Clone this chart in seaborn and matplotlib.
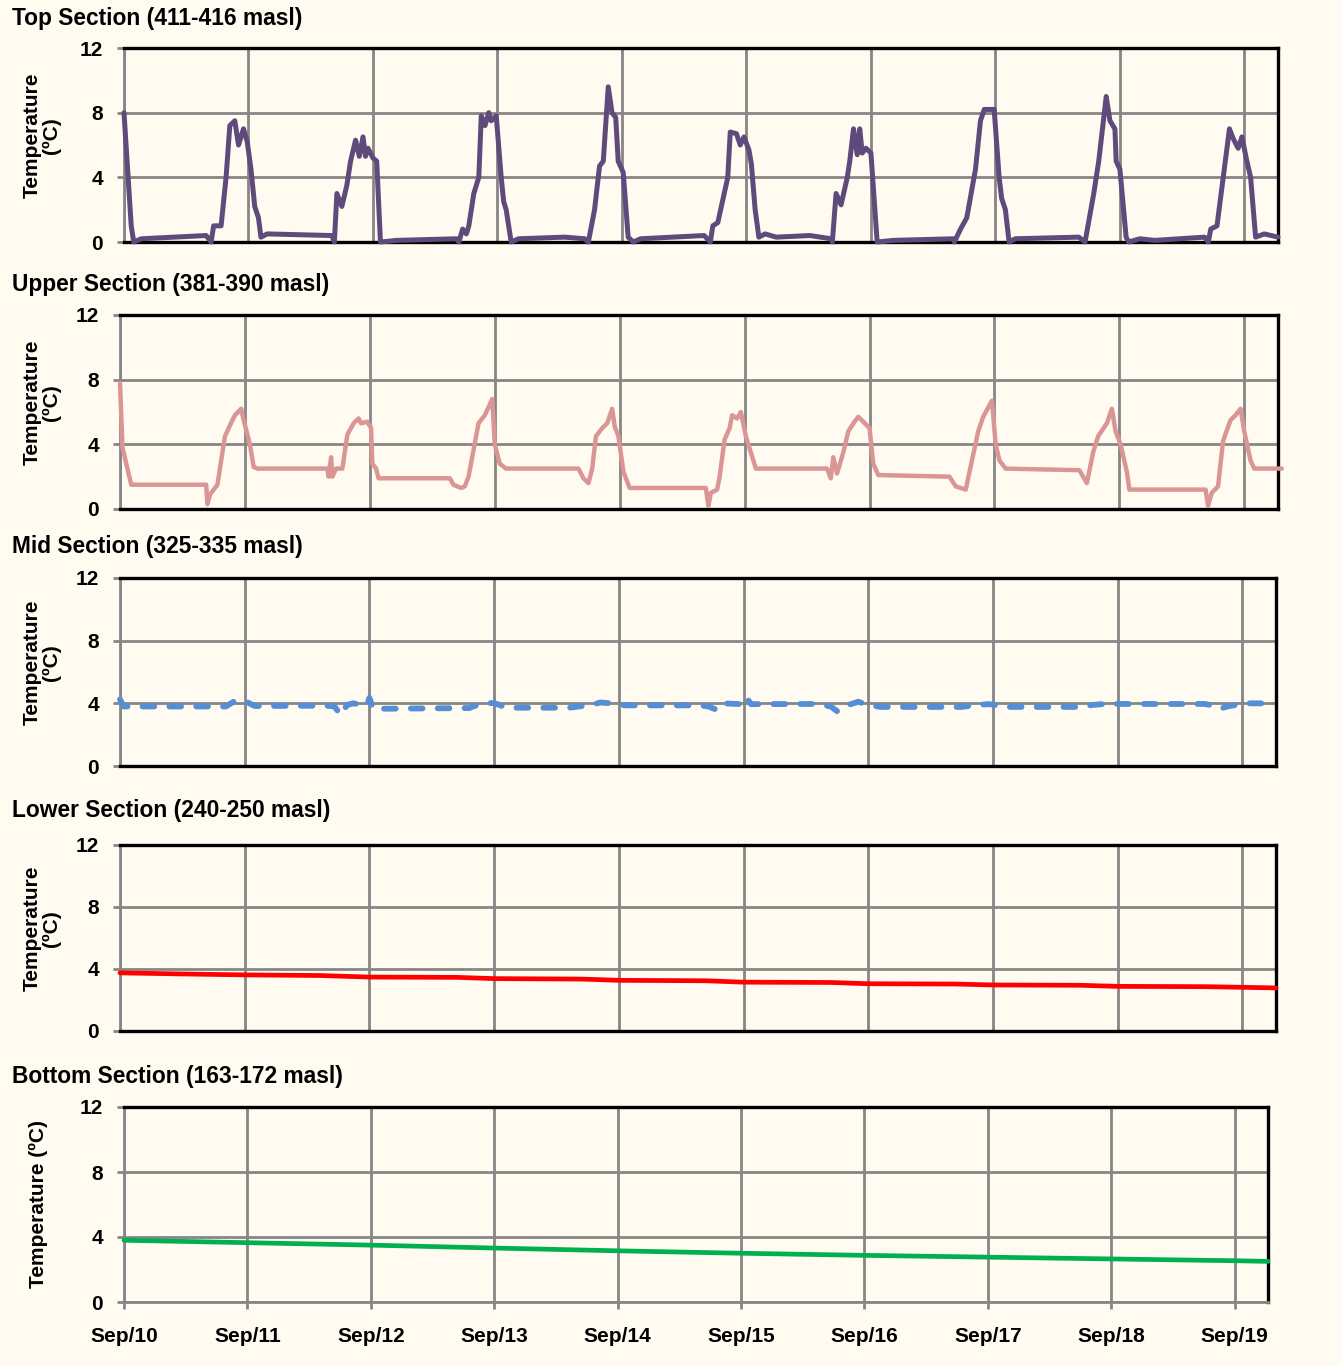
import numpy as np
import pandas as pd
import matplotlib
matplotlib.use("Agg")
import matplotlib.pyplot as plt
import seaborn as sns

# ---------------- data ----------------
x_labels = ["Sep/10", "Sep/11", "Sep/12", "Sep/13", "Sep/14",
            "Sep/15", "Sep/16", "Sep/17", "Sep/18", "Sep/19"]

titles = ["Top Section (411-416 masl)", "Upper Section (381-390 masl)",
          "Mid Section (325-335 masl)", "Lower Section (240-250 masl)",
          "Bottom Section (163-172 masl)"]

top_day = [0.00, 0.058, 0.078, 0.14, 0.66, 0.70, 0.72, 0.78, 0.82, 0.85, 0.89, 0.92,
           0.96, 0.99, 1.02, 1.05, 1.08, 1.10, 1.15, 1.67, 1.69, 1.71, 1.75, 1.79,
           1.82, 1.86, 1.89, 1.92, 1.94, 1.96, 2.00, 2.03, 2.06, 2.19, 2.67, 2.69,
           2.72, 2.75, 2.77, 2.81, 2.85, 2.87, 2.90, 2.93, 2.95, 2.99, 3.03, 3.05,
           3.07, 3.11, 3.17, 3.54, 3.70, 3.73, 3.78, 3.82, 3.85, 3.89, 3.92, 3.95,
           3.97, 4.01, 4.05, 4.09, 4.15, 4.66, 4.71, 4.73, 4.77, 4.85, 4.87, 4.92,
           4.95, 4.98, 5.02, 5.04, 5.07, 5.10, 5.15, 5.24, 5.51, 5.68, 5.69, 5.72,
           5.76, 5.81, 5.83, 5.86, 5.89, 5.91, 5.93, 5.96, 6.00, 6.05, 6.18, 6.66,
           6.67, 6.72, 6.77, 6.84, 6.88, 6.91, 6.99, 7.03, 7.05, 7.08, 7.11, 7.16,
           7.67, 7.72, 7.79, 7.83, 7.89, 7.92, 7.96, 7.97, 8.00, 8.05, 8.07, 8.16,
           8.28, 8.68, 8.71, 8.73, 8.78, 8.83, 8.88, 8.91, 8.95, 8.98, 9.02, 9.05,
           9.09, 9.16, 9.27]
top_temp = [8.0, 1.0, 0.0, 0.2, 0.4, 0.0, 1.0, 1.0, 4.0, 7.2, 7.5, 6.0,
            7.0, 6.2, 4.5, 2.2, 1.5, 0.3, 0.5, 0.4, 0.0, 3.0, 2.2, 3.5,
            5.0, 6.3, 5.3, 6.5, 5.3, 5.8, 5.2, 5.0, 0.0, 0.1, 0.2, 0.0,
            0.8, 0.5, 1.0, 3.0, 4.0, 7.8, 7.2, 8.0, 7.5, 7.8, 4.0, 2.5,
            2.0, 0.0, 0.2, 0.3, 0.2, 0.0, 2.0, 4.7, 5.0, 9.6, 8.0, 7.7,
            5.0, 4.3, 0.3, 0.0, 0.2, 0.4, 0.0, 1.0, 1.2, 4.0, 6.8, 6.7,
            6.0, 6.5, 5.7, 4.8, 2.0, 0.3, 0.5, 0.3, 0.4, 0.2, 0.0, 3.0,
            2.3, 4.0, 5.0, 7.0, 5.4, 7.0, 5.5, 5.8, 5.5, 0.0, 0.1, 0.2,
            0.0, 0.8, 1.5, 4.5, 7.5, 8.2, 8.2, 4.0, 2.7, 2.0, 0.0, 0.2,
            0.3, 0.0, 3.0, 5.0, 9.0, 7.5, 7.0, 5.0, 4.5, 0.3, 0.0, 0.2,
            0.1, 0.3, 0.0, 0.8, 1.0, 4.0, 7.0, 6.4, 5.8, 6.5, 5.0, 4.0,
            0.3, 0.5, 0.3]

upper_day = [0.00, 0.02, 0.09, 0.69, 0.70, 0.72, 0.75, 0.78, 0.84, 0.87, 0.90, 0.92,
             0.97, 0.99, 1.04, 1.07, 1.10, 1.66, 1.67, 1.69, 1.70, 1.73, 1.78, 1.82,
             1.87, 1.91, 1.93, 1.98, 2.01, 2.02, 2.05, 2.07, 2.64, 2.67, 2.73, 2.76,
             2.79, 2.87, 2.92, 2.95, 2.98, 3.00, 3.04, 3.09, 3.67, 3.71, 3.75, 3.78,
             3.81, 3.86, 3.90, 3.94, 3.96, 3.99, 4.03, 4.08, 4.69, 4.71, 4.73, 4.78,
             4.80, 4.84, 4.88, 4.90, 4.94, 4.97, 5.01, 5.05, 5.09, 5.66, 5.69, 5.71,
             5.74, 5.79, 5.83, 5.88, 5.91, 5.95, 6.00, 6.03, 6.07, 6.64, 6.69, 6.77,
             6.82, 6.87, 6.91, 6.98, 7.01, 7.04, 7.09, 7.68, 7.71, 7.74, 7.79, 7.83,
             7.90, 7.94, 7.97, 8.01, 8.06, 8.08, 8.69, 8.71, 8.74, 8.79, 8.83, 8.89,
             8.93, 8.97, 9.00, 9.05, 9.08, 9.30]
upper_temp = [7.8, 3.8, 1.5, 1.5, 0.3, 0.9, 1.2, 1.5, 4.5, 5.0, 5.5, 5.8,
              6.2, 5.5, 4.0, 2.6, 2.5, 2.5, 2.0, 3.2, 2.0, 2.5, 2.5, 4.6,
              5.3, 5.6, 5.3, 5.4, 5.0, 2.8, 2.5, 1.9, 1.9, 1.5, 1.3, 1.4,
              2.0, 5.3, 5.8, 6.3, 6.8, 4.0, 2.8, 2.5, 2.5, 1.9, 1.6, 2.5,
              4.5, 5.0, 5.3, 6.2, 5.1, 4.5, 2.3, 1.3, 1.3, 0.2, 1.0, 1.2,
              2.0, 4.3, 5.0, 5.8, 5.6, 6.0, 4.5, 3.5, 2.5, 2.5, 1.9, 3.2,
              2.2, 3.5, 4.8, 5.4, 5.7, 5.4, 5.0, 2.8, 2.1, 2.0, 1.4, 1.2,
              3.0, 4.8, 5.7, 6.7, 4.0, 3.0, 2.5, 2.4, 2.0, 1.6, 3.5, 4.5,
              5.3, 6.2, 4.8, 4.0, 2.3, 1.2, 1.2, 0.2, 1.0, 1.4, 4.2, 5.5,
              5.8, 6.2, 4.8, 3.0, 2.5, 2.5]

mid_day = [0.00, 0.03, 0.50, 0.85, 0.92, 1.00, 1.08, 1.65, 1.72, 1.77, 1.82, 1.87,
           1.98, 2.00, 2.03, 2.50, 2.80, 2.90, 3.00, 3.10, 3.60, 3.78, 3.85, 3.95,
           4.05, 4.65, 4.72, 4.78, 4.83, 4.98, 5.02, 5.06, 5.60, 5.70, 5.75, 5.80,
           5.92, 6.00, 6.10, 6.75, 6.87, 6.97, 7.10, 7.70, 7.80, 7.90, 8.70, 8.77,
           8.82, 8.88, 9.02, 9.25]
mid_temp = [4.25, 3.80, 3.80, 3.80, 4.15, 4.15, 3.83, 3.85, 3.80, 3.25, 3.90, 4.00,
            3.85, 4.35, 3.65, 3.68, 3.70, 4.00, 4.02, 3.72, 3.72, 3.90, 4.05, 4.00,
            3.87, 3.87, 3.80, 3.60, 4.00, 3.95, 4.40, 3.95, 3.96, 3.80, 3.50, 3.80,
            4.10, 3.90, 3.77, 3.77, 3.90, 3.95, 3.77, 3.77, 3.90, 3.96, 3.96, 3.85,
            3.65, 3.80, 4.00, 4.00]

lower_day = [0.0, 0.5, 1.0, 1.6, 2.0, 2.7, 3.0, 3.7, 4.0, 4.7, 5.0, 5.7, 6.0,
             6.7, 7.0, 7.7, 8.0, 8.7, 9.0, 9.27]
lower_temp = [3.75, 3.68, 3.62, 3.58, 3.48, 3.46, 3.38, 3.35, 3.27, 3.24, 3.15,
              3.13, 3.05, 3.03, 2.97, 2.95, 2.88, 2.86, 2.82, 2.78]

bottom_day = [0, 1, 2, 3, 4, 5, 6, 7, 8, 9, 9.27]
bottom_temp = [3.8, 3.65, 3.5, 3.32, 3.15, 3.0, 2.87, 2.76, 2.65, 2.54, 2.5]

# ---------------- style ----------------
sns.set_theme(style="white")
plt.rcParams['font.family'] = ['Liberation Sans', 'DejaVu Sans']
plt.rcParams['font.weight'] = 'bold'
plt.rcParams['axes.labelweight'] = 'bold'

W, H = 1341, 1366
BG = '#FFFBF1'
GRID = '#868686'

fig = plt.figure(figsize=(W / 100, H / 100), dpi=100)
fig.patch.set_facecolor(BG)

panels = [
    dict(day=top_day, temp=top_temp, color='#5F4B7B', lw=3.6, dash=False,
         box=(124, 1278, 48, 242), ty=19, ylab='Temperature\n(\u00baC)', lx=42),
    dict(day=upper_day, temp=upper_temp, color='#D99694', lw=3.2, dash=False,
         box=(120, 1278, 315, 509), ty=284, ylab='Temperature\n(\u00baC)', lx=42),
    dict(day=mid_day, temp=mid_temp, color='#558ED5', lw=4.2, dash=True,
         box=(120, 1276, 578, 766), ty=547, ylab='Temperature\n(\u00baC)', lx=42),
    dict(day=lower_day, temp=lower_temp, color='#FF0000', lw=3.4, dash=False,
         box=(120, 1276, 845, 1031), ty=811, ylab='Temperature\n(\u00baC)', lx=42),
    dict(day=bottom_day, temp=bottom_temp, color='#00B050', lw=3.4, dash=False,
         box=(124, 1268, 1107, 1302), ty=1076, ylab='Temperature (\u00baC)', lx=38),
]

for i, p in enumerate(panels):
    l, r, t, b = p['box']
    ax = fig.add_axes([l / W, 1 - b / H, (r - l) / W, (b - t) / H])
    ax.set_facecolor(BG)
    df = pd.DataFrame({'day': p['day'], 'temp': p['temp']})
    sns.lineplot(data=df, x='day', y='temp', ax=ax, color=p['color'],
                 linewidth=p['lw'], sort=False, estimator=None, zorder=5)
    line = ax.lines[-1]
    line.set_clip_on(False)
    line.set_solid_joinstyle('round')
    line.set_solid_capstyle('round')
    if p['dash']:
        line.set_dashes((2.0, 2.6))
        line.set_dash_capstyle('round')

    ax.set_xlim(0, 9.27)
    ax.set_ylim(0, 12)
    ax.set_xticks(range(len(x_labels)))
    ax.set_yticks([0, 4, 8, 12])
    ax.grid(True, color=GRID, linewidth=2.0)
    ax.set_axisbelow(True)

    for s in ['top', 'right']:
        ax.spines[s].set_color('black')
        ax.spines[s].set_linewidth(2.4)
        ax.spines[s].set_visible(True)
    ax.spines['left'].set_color(GRID)
    ax.spines['left'].set_linewidth(2.0)
    ax.spines['left'].set_visible(True)
    ax.spines['bottom'].set_visible(True)
    if i < 4:
        ax.spines['bottom'].set_color('black')
        ax.spines['bottom'].set_linewidth(2.4)
        ax.tick_params(axis='x', length=0, labelbottom=False)
    else:
        ax.spines['bottom'].set_color(GRID)
        ax.spines['bottom'].set_linewidth(2.0)
        ax.set_xticklabels(x_labels)
        ax.tick_params(axis='x', length=5, width=2.0, color=GRID,
                       labelsize=15, pad=13, bottom=True)
    ax.tick_params(axis='y', length=5, width=2.0, color=GRID,
                   labelsize=15, pad=10, left=True)
    for lab in ax.get_xticklabels() + ax.get_yticklabels():
        lab.set_fontweight('bold')
        lab.set_color('black')

    ax.set_xlabel('')
    ax.set_ylabel(p['ylab'], fontsize=15, fontweight='bold',
                  linespacing=1.0, color='black')
    ax.yaxis.label.set_verticalalignment('center')
    ax.yaxis.set_label_coords((p['lx'] - l) / (r - l), 0.55 if i < 4 else 0.5)

    fig.text(12 / W, 1 - p['ty'] / H, titles[i], ha='left', va='center',
             fontsize=16.4, fontweight='bold', color='black')

fig.savefig('out.png', dpi=100, facecolor=BG)
